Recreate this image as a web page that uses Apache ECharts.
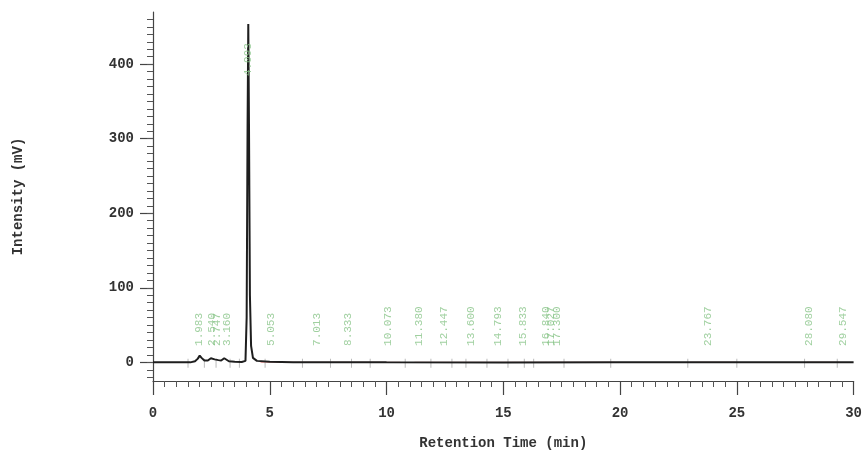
<!DOCTYPE html>
<html>
<head>
<meta charset="utf-8">
<script src="https://cdn.jsdelivr.net/npm/echarts@6/dist/echarts.min.js"></script>
<style>
  html, body { margin: 0; padding: 0; background: #fff; }
  #chart { width: 865px; height: 455px; }
</style>
</head>
<body>
<div id="chart"></div>
<script>
// ========== 数据 ==========
// chromatogram trace: retention time (min) / intensity (mV)
const traceTime = [0, 1.6, 1.8, 1.92, 2.0, 2.08, 2.2, 2.35, 2.48, 2.56, 2.64, 2.72, 2.8, 2.92, 3.05, 3.12, 3.25, 3.5, 3.8,
                   3.96, 4.01, 4.05, 4.08, 4.11, 4.15, 4.2, 4.28, 4.45, 5.0, 6.0, 8.0, 10.0, 15.0, 20.0, 25.0, 30.0];
const traceMv   = [0, 0, 1.5, 5, 9, 6, 2.5, 2.5, 5.5, 7, 4, 5, 3, 2.5, 5.5, 4, 1.5, 0.8, 0.5,
                   2, 60, 320, 454, 320, 90, 22, 6, 2, 0.8, 0.3, 0.2, 0, -0.3, 0, 0, 0];

// integrated peaks
const peakTime  = [1.983, 2.540, 2.747, 3.160, 4.093, 5.053, 7.013, 8.333, 10.073, 11.380, 12.447, 13.600,
                   14.793, 15.833, 16.840, 17.027, 17.300, 23.767, 28.080, 29.547];
const peakLabel = ['1.983', '2.540', '2.747', '3.160', '4.093', '5.053', '7.013', '8.333', '10.073', '11.380',
                   '12.447', '13.600', '14.793', '15.833', '16.840', '17.027', '17.300', '23.767', '28.080', '29.547'];

// peak start / end marks on the baseline
const markTime = [1.5, 2.2, 2.7, 3.3, 3.7, 4.8, 6.4, 7.6, 8.5, 9.3, 10.8, 11.9, 12.8, 13.4, 14.3, 15.2, 15.9,
                  16.3, 17.6, 19.6, 22.9, 25.0, 27.9, 29.3];

// red integration baselines [start, end]
const baseSegs = [[4.6, 10.6], [11.2, 19.8], [23.0, 25.0], [28.0, 29.4]];

const yMajor = [0, 100, 200, 300, 400];
const yMinor = [];
for (let v = -20; v <= 460; v += 10) yMinor.push(v);

// ========== ECharts 配置 ==========
const chart = echarts.init(document.getElementById('chart'));
const FONT = '"Liberation Mono", "DejaVu Sans Mono", monospace';

const baseData = [];
baseSegs.forEach(s => { baseData.push([s[0], 0], [s[1], 0], [s[1], null]); });

chart.setOption({
    animation: false,
    grid: { left: 153, right: 2, top: 12, bottom: 67 },
    xAxis: {
        type: 'value', min: 0, max: 30, interval: 5,
        name: 'Retention Time (min)', nameLocation: 'middle', nameGap: 55,
        nameTextStyle: { fontFamily: FONT, fontWeight: 'bold', fontSize: 14, color: '#333' },
        axisLine: { onZero: false, lineStyle: { color: '#444', width: 1.2 } },
        axisTick: { length: 14, lineStyle: { color: '#444', width: 1.2 } },
        minorTick: { show: true, splitNumber: 10, length: 6, lineStyle: { color: '#555' } },
        axisLabel: { margin: 25, fontFamily: FONT, fontWeight: 'bold', fontSize: 14, color: '#333' },
        splitLine: { show: false }
    },
    yAxis: [{
        type: 'value', min: -25, max: 470, position: 'left',
        name: 'Intensity (mV)', nameLocation: 'middle', nameGap: 128, nameRotate: 90,
        nameTextStyle: { fontFamily: FONT, fontWeight: 'bold', fontSize: 14, color: '#333' },
        axisLine: { show: true, onZero: false, lineStyle: { color: '#444', width: 1.2 } },
        axisTick: { show: true, length: 13, customValues: yMajor, lineStyle: { color: '#444', width: 1.2 } },
        axisLabel: { margin: 19, customValues: yMajor, fontFamily: FONT, fontWeight: 'bold', fontSize: 14, color: '#333' },
        splitLine: { show: false }
    }, {
        type: 'value', min: -25, max: 470, position: 'left',
        axisLine: { show: false, onZero: false },
        axisTick: { show: true, length: 6, customValues: yMinor, lineStyle: { color: '#555' } },
        axisLabel: { show: false },
        splitLine: { show: false }
    }],
    series: [
        {
            name: 'baseline', type: 'line', data: baseData, connectNulls: false,
            symbol: 'none', lineStyle: { color: '#f3b0b0', width: 1.2 }, z: 1
        },
        {
            name: 'marks', type: 'scatter', data: markTime.map(t => [t, 0]),
            symbol: 'rect', symbolSize: [1, 9], symbolOffset: [0, 1],
            itemStyle: { color: '#aaa' }, z: 2
        },
        {
            name: 'trace', type: 'line', data: traceTime.map((t, i) => [t, traceMv[i]]),
            symbol: 'none', lineStyle: { color: '#1e1e1e', width: 2 }, z: 3
        },
        {
            name: 'labels', type: 'scatter',
            data: peakTime.map((t, i) => ({ value: [t, t > 4 && t < 4.2 ? 384 : 22], name: peakLabel[i] })),
            symbolSize: 0, z: 4,
            label: {
                show: true, position: [0, 0], rotate: 90, align: 'left', verticalAlign: 'middle',
                formatter: p => p.name,
                fontFamily: FONT, fontSize: 11, color: '#88c488'
            }
        }
    ]
});
</script>
</body>
</html>
